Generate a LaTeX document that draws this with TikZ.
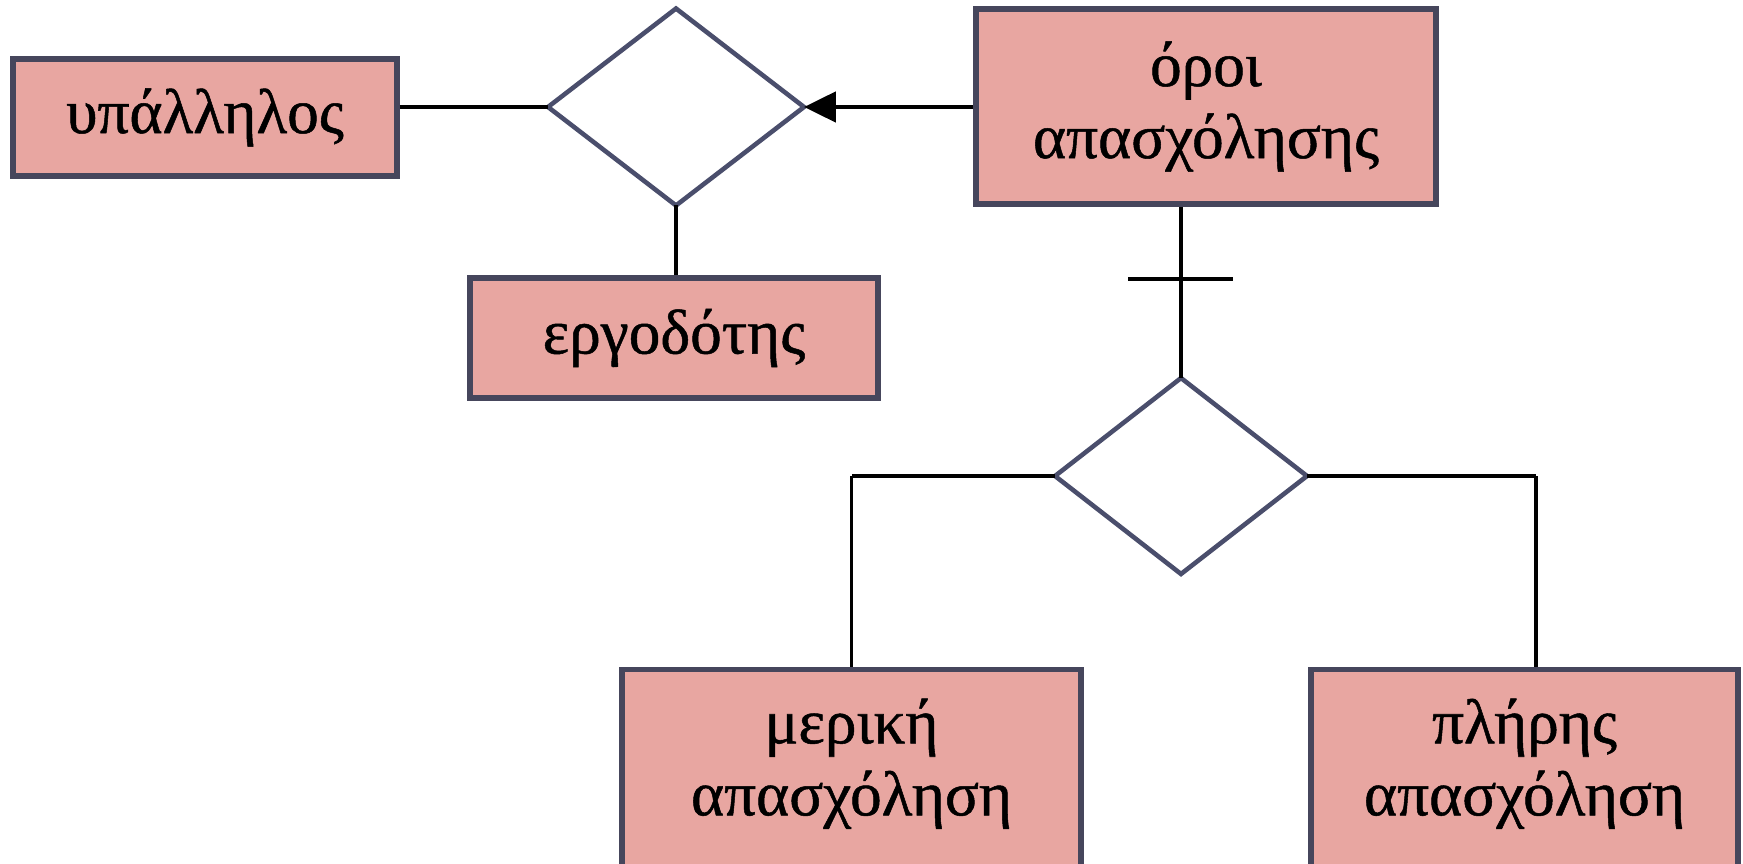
\documentclass[tikz,border=0pt]{standalone}
\usepackage{fontspec}
\setmainfont[FakeBold=0.8]{Liberation Serif}
\usetikzlibrary{shapes.geometric,arrows.meta}

\definecolor{entfill}{HTML}{E8A6A1}
\definecolor{entline}{HTML}{46465C}
\definecolor{relline}{HTML}{4A4E6C}

\tikzset{
  entity/.style={draw=entline, fill=entfill, line width=3.2pt, inner sep=0pt,
    font=\fontsize{36}{41}\selectfont, align=center},
  relation/.style={draw=relline, fill=white, diamond, line width=2.6pt,
    inner sep=0pt, outer sep=0pt},
  hlink/.style={line width=2.8pt, black},
  vlink/.style={line width=2pt, black},
}

\begin{document}
\begin{tikzpicture}[x=0.02cm, y=-0.02cm]
  \useasboundingbox (0,0) rectangle (1743,864);
  \clip (0,0) rectangle (1743,864);

  % entities and relationships
  \node[entity, minimum width=7.68cm, minimum height=2.34cm] (ypal) at (205,117.5) {υπάλληλος};
  \node[relation, minimum width=5.12cm, minimum height=3.94cm] (d1) at (676,107) {};
  \node[entity, minimum width=8.16cm, minimum height=2.4cm] (erg) at (674,338) {εργοδότης};
  \node[entity, minimum width=9.2cm, minimum height=3.9cm] (oroi) at (1206,106.5) {όροι\\απασχόλησης};
  \node[relation, minimum width=5.04cm, minimum height=3.92cm] (d2) at (1181,476) {};
  \node[entity, minimum width=9.18cm, minimum height=4.1cm, text depth=0.6cm] (meriki) at (851.5,772) {μερική\\απασχόληση};
  \node[entity, minimum width=8.54cm, minimum height=4.1cm, text depth=0.6cm] (pliris) at (1524.5,772) {πλήρης\\απασχόληση};

  % elbow points of the links below the lower relationship
  \coordinate (cornerL) at (d2.west -| meriki.north);
  \coordinate (plirisTop) at ([xshift=0.23cm]pliris.north);
  \coordinate (cornerR) at (d2.east -| plirisTop);

  % connectors
  \draw[hlink] (ypal.east |- d1.west) -- (d1.west);
  \draw[hlink, -{Triangle[length=0.64cm, width=0.6cm]}] (oroi.west |- d1.east) -- (d1.east);
  \draw[vlink] (d1.south) -- (d1.south |- erg.north);
  \draw[vlink] (d2.north |- oroi.south) -- (d2.north);
  \draw[hlink] (d2.west) -- (cornerL);
  \draw[vlink] (cornerL) -- (meriki.north);
  \draw[hlink] (d2.east) -- (cornerR);
  \draw[vlink] (cornerR) -- (plirisTop);

  % cardinality bar on the link above the lower relationship
  \coordinate (bar) at (1180,279);
  \draw[line width=2.8pt] ([xshift=-1.04cm]bar) -- ([xshift=1.06cm]bar);
\end{tikzpicture}
\end{document}
